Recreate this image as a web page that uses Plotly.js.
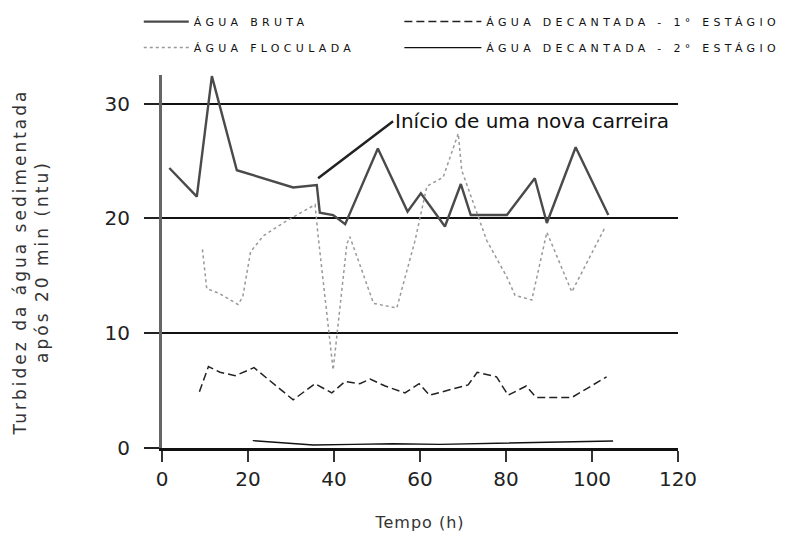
<!DOCTYPE html>
<html>
<head>
<meta charset="utf-8">
<script src="https://cdn.plot.ly/plotly-3.0.1.min.js"></script>
<style>
  html, body { margin: 0; padding: 0; background: #fff; }
  #chart { width: 796px; height: 535px; }
</style>
</head>
<body>
<div id="chart"></div>
<script>
// Água bruta
const brutaX = [1.7, 8.1, 11.6, 17.4, 30.5, 36.0, 36.7, 39.8, 42.6, 50.2, 57.1, 60.2, 65.8, 69.5, 71.8, 80.2, 86.7, 89.5, 96.2, 103.8];
const brutaY = [24.4, 21.9, 32.4, 24.2, 22.7, 22.9, 20.5, 20.3, 19.5, 26.1, 20.6, 22.2, 19.3, 23.0, 20.3, 20.3, 23.5, 19.6, 26.2, 20.3];

// Água floculada
const flocX = [9.4, 10.4, 13.1, 17.7, 18.8, 19.5, 20.6, 23.6, 29.0, 35.6, 36.3, 39.8, 43.0, 43.7, 49.2, 54.6, 58.8, 61.6, 65.4, 68.9, 69.7, 75.5, 80.2, 82.1, 86.0, 89.5, 95.3, 103.0];
const flocY = [17.3, 13.9, 13.5, 12.5, 13.2, 14.6, 17.1, 18.5, 19.8, 21.2, 18.5, 6.8, 17.8, 18.4, 12.6, 12.2, 18.0, 22.8, 23.6, 27.4, 24.2, 18.1, 14.9, 13.3, 12.9, 18.8, 13.6, 19.2];

// Água decantada - 1º estágio
const dec1X = [8.7, 10.8, 13.5, 17.0, 21.4, 30.5, 35.6, 39.5, 42.6, 46.0, 48.4, 51.9, 56.5, 59.8, 62.2, 71.2, 73.3, 77.8, 80.5, 84.7, 87.0, 95.3, 103.4];
const dec1Y = [4.9, 7.1, 6.6, 6.3, 7.0, 4.2, 5.6, 4.8, 5.8, 5.6, 6.0, 5.4, 4.8, 5.6, 4.6, 5.5, 6.6, 6.2, 4.6, 5.4, 4.4, 4.4, 6.2];

// Água decantada - 2º estágio
const dec2X = [21.1, 27.4, 35.2, 44.5, 53.7, 64.7, 78.6, 93.3, 104.9];
const dec2Y = [0.64, 0.46, 0.26, 0.32, 0.37, 0.32, 0.41, 0.50, 0.61];

const xTicks = [0, 20, 40, 60, 80, 100, 120];
const yTicks = [0, 10, 20, 30];

const names = {
  bruta: 'ÁGUA BRUTA',
  floc: 'ÁGUA FLOCULADA',
  dec1: 'ÁGUA DECANTADA - 1° ESTÁGIO',
  dec2: 'ÁGUA DECANTADA - 2° ESTÁGIO'
};

const traces = [
  { x: brutaX, y: brutaY, name: names.bruta, mode: 'lines', legend: 'legend', legendgroup: 'a',
    line: { color: '#4a4a4a', width: 2.4 } },
  { x: flocX, y: flocY, name: names.floc, mode: 'lines', legend: 'legend', legendgroup: 'b',
    line: { color: '#999', width: 1.5, dash: 'dot' } },
  { x: dec1X, y: dec1Y, name: names.dec1, mode: 'lines', legend: 'legend2', legendgroup: 'c',
    line: { color: '#222', width: 1.5, dash: '8px,4px' } },
  { x: dec2X, y: dec2Y, name: names.dec2, mode: 'lines', legend: 'legend2', legendgroup: 'd',
    line: { color: '#111', width: 1.3 } }
];

const legendCommon = {
  orientation: 'v', traceorder: 'grouped', tracegroupgap: 7,
  bgcolor: 'rgba(0,0,0,0)', borderwidth: 0,
  font: { family: 'DejaVu Sans', size: 11, color: '#111' },
  yanchor: 'top', xanchor: 'left', y: 1.182
};

const layout = {
  width: 796, height: 535,
  margin: { l: 162, r: 118, t: 75, b: 87, autoexpand: false },
  paper_bgcolor: '#fff', plot_bgcolor: '#fff',
  showlegend: true,
  legend: Object.assign({}, legendCommon, { x: -0.045, itemwidth: 45 }),
  legend2: Object.assign({}, legendCommon, { x: 0.46, itemwidth: 77 }),
  xaxis: {
    range: [0, 120], tickvals: xTicks, ticktext: xTicks.map(String),
    ticks: 'outside', ticklen: 11, tickwidth: 2, tickcolor: '#333',
    showline: true, linecolor: '#111', linewidth: 2.5,
    showgrid: false, zeroline: false,
    tickfont: { family: 'DejaVu Sans', size: 20, color: '#222' },
    ticklabelstandoff: 0,
    title: { text: 'Tempo (h)', font: { family: 'DejaVu Sans', size: 16, color: '#333' }, standoff: 28 }
  },
  yaxis: {
    range: [0, 32.5], tickvals: yTicks, ticktext: yTicks.map(String),
    ticks: 'outside', ticklen: 15, tickwidth: 2, tickcolor: '#222',
    showline: true, linecolor: '#666', linewidth: 3,
    showgrid: true, gridcolor: '#111', gridwidth: 2,
    zeroline: false,
    tickfont: { family: 'DejaVu Sans', size: 20, color: '#222' },
    ticklabelstandoff: 10,
    title: { text: 'Turbidez da água sedimentada<br>após 20 min (ntu)', font: { family: 'DejaVu Sans', size: 17, color: '#333' }, standoff: 52 }
  },
  annotations: [{
    x: 36.3, y: 23.5, xref: 'x', yref: 'y',
    text: 'Início de uma nova carreira',
    showarrow: true, arrowhead: 0, arrowwidth: 2.5, arrowcolor: '#222',
    ax: 75, ay: -57, xanchor: 'left', yanchor: 'middle',
    font: { family: 'DejaVu Sans', size: 20, color: '#111' }
  }]
};

function spaceTexts(gd) {
  const all = gd.querySelectorAll('.infolayer text, .legend text');
  all.forEach(function (t) {
    const s = t.textContent || '';
    if (s.indexOf('ÁGUA') === 0) {
      t.setAttribute('letter-spacing', '4.3');
      t.style.letterSpacing = '4.3px';
    }
  });
  gd.querySelectorAll('.ytitle').forEach(function (t) { t.style.letterSpacing = '3px'; });
  gd.querySelectorAll('.xtitle').forEach(function (t) { t.style.letterSpacing = '1px'; });
  // let the widened legend texts show fully
  gd.querySelectorAll('.infolayer [clip-path]').forEach(function (e) {
    const cls = (e.getAttribute('class') || '');
    if (cls.indexOf('scrollbox') >= 0 || e.closest('[class^="legend"]')) e.removeAttribute('clip-path');
  });
}

Plotly.newPlot('chart', traces, layout, { displayModeBar: false, staticPlot: true }).then(function (gd) {
  spaceTexts(gd);
  setTimeout(function () { spaceTexts(gd); }, 50);
});
</script>
</body>
</html>
